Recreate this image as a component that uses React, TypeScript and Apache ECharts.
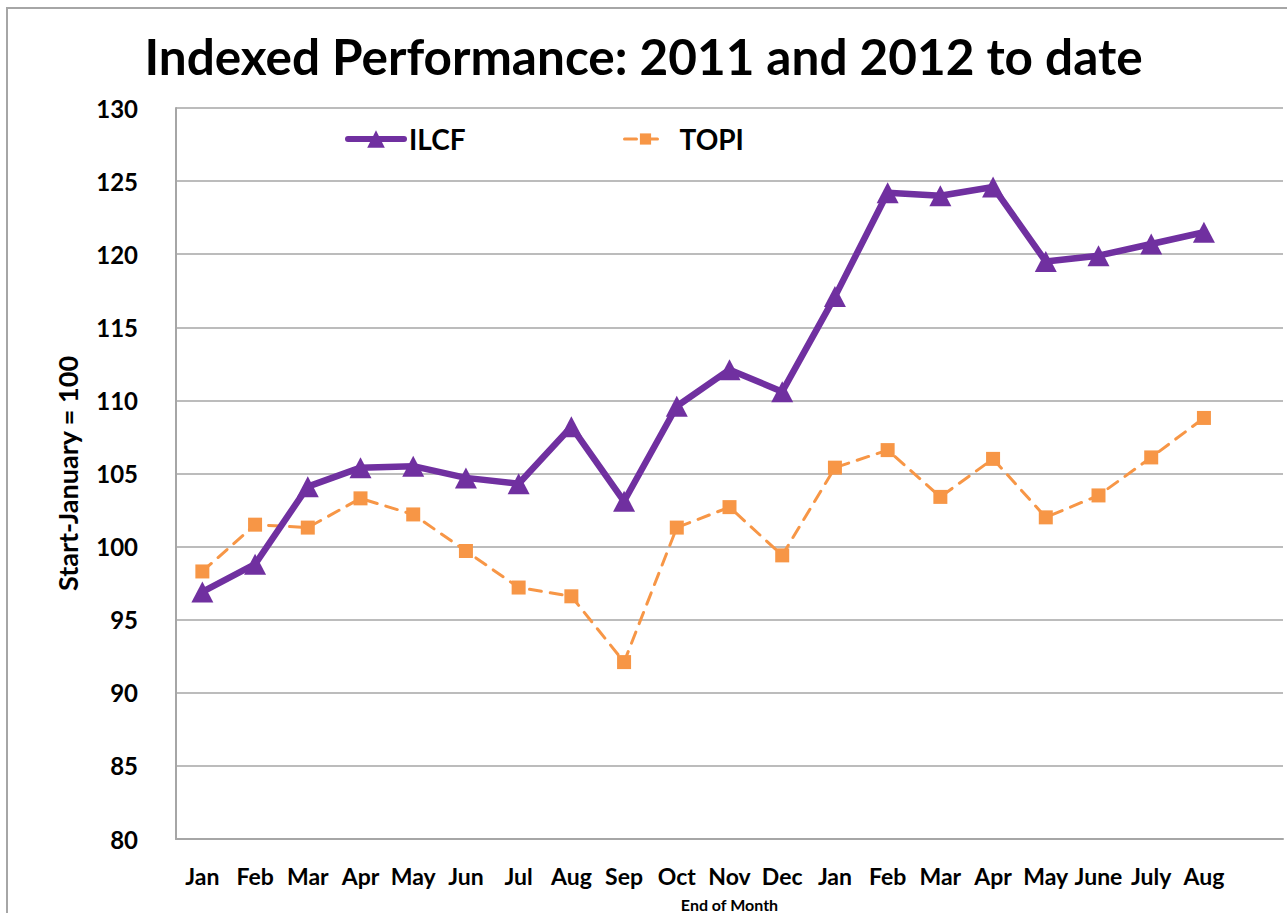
import React, { useEffect, useRef } from "react";
import * as echarts from "echarts";

const categories = ["Jan", "Feb", "Mar", "Apr", "May", "Jun", "Jul", "Aug", "Sep", "Oct", "Nov", "Dec", "Jan", "Feb", "Mar", "Apr", "May", "June", "July", "Aug", ""];
const ilcf = [96.9, 98.8, 104.1, 105.4, 105.5, 104.7, 104.3, 108.2, 103.1, 109.6, 112.1, 110.6, 117.1, 124.2, 124.0, 124.6, 119.5, 119.9, 120.7, 121.5];
const topi = [98.3, 101.5, 101.3, 103.3, 102.2, 99.7, 97.2, 96.6, 92.1, 101.3, 102.7, 99.4, 105.4, 106.6, 103.4, 106.0, 102.0, 103.5, 106.1, 108.8];
const yTicks = { min: 80, max: 130, interval: 5 };

const FONT = "Lato";

export default function App() {
  const ref = useRef<HTMLDivElement>(null);
  useEffect(() => {
    const chart = echarts.init(ref.current!, null, { renderer: "svg" });
    chart.setOption({
      animation: false,
      backgroundColor: "#ffffff",
      textStyle: { fontFamily: FONT },
      title: {
        text: "Indexed Performance: 2011 and 2012 to date",
        left: "center",
        top: 26,
        textStyle: { fontFamily: FONT, fontWeight: "bold", fontSize: 49.5, color: "#000" },
      },
      graphic: [
        {
          type: "rect",
          shape: { x: 7, y: 8, width: 1400, height: 1000 },
          style: { fill: "none", stroke: "#a6a6a6", lineWidth: 2 },
          silent: true,
        },
      ],
      legend: [
        {
          data: ["ILCF"],
          left: 345,
          top: 125,
          padding: 0,
          itemWidth: 56,
          itemHeight: 22,
          lineStyle: { width: 6, cap: "round" },
          textStyle: { fontFamily: FONT, fontWeight: "bold", fontSize: 28, color: "#000" },
        },
        {
          data: ["TOPI"],
          left: 623,
          top: 125,
          padding: 0,
          itemWidth: 42,
          itemHeight: 14,
          lineStyle: { width: 3, cap: "round" },
          textStyle: { fontFamily: FONT, fontWeight: "bold", fontSize: 28, color: "#000", padding: [0, 0, 0, 8] },
        },
      ],
      grid: { left: 176, top: 108, right: 4, bottom: 74, containLabel: false, outerBoundsMode: "none" },
      xAxis: {
        type: "category",
        data: categories,
        boundaryGap: true,
        axisLine: { show: true, lineStyle: { color: "#a6a6a6", width: 2 } },
        axisTick: { show: false },
        axisLabel: { interval: 0, margin: 25, fontFamily: FONT, fontWeight: "bold", fontSize: 23, color: "#000" },
        name: "End of Month",
        nameLocation: "middle",
        nameGap: 57,
        nameTextStyle: { fontFamily: FONT, fontWeight: "bold", fontSize: 16, color: "#000" },
      },
      yAxis: {
        type: "value",
        min: yTicks.min,
        max: yTicks.max,
        interval: yTicks.interval,
        axisLine: { show: true, lineStyle: { color: "#a6a6a6", width: 2 } },
        axisTick: { show: false },
        splitLine: { show: true, lineStyle: { color: "#a6a6a6", width: 1.5 } },
        axisLabel: { margin: 38, fontFamily: FONT, fontWeight: "bold", fontSize: 24, color: "#000" },
        name: "Start-January = 100",
        nameLocation: "middle",
        nameRotate: 90,
        nameGap: 95,
        nameTextStyle: { fontFamily: FONT, fontWeight: "bold", fontSize: 27, color: "#000" },
      },
      series: [
        {
          name: "ILCF",
          type: "line",
          data: ilcf,
          symbol: "triangle",
          symbolSize: [22, 21],
          itemStyle: { color: "#7030a0" },
          lineStyle: { color: "#7030a0", width: 6.5, cap: "round", join: "round" },
          z: 3,
        },
        {
          name: "TOPI",
          type: "line",
          data: topi,
          symbol: "rect",
          symbolSize: 14,
          itemStyle: { color: "#f79646" },
          lineStyle: { color: "#f79646", width: 3, type: [12, 9], cap: "round" },
          z: 2,
        },
      ],
    });
    return () => chart.dispose();
  }, []);
  return <div ref={ref} style={{ position: "absolute", left: 0, top: 0, width: 1287, height: 913 }} />;
}
